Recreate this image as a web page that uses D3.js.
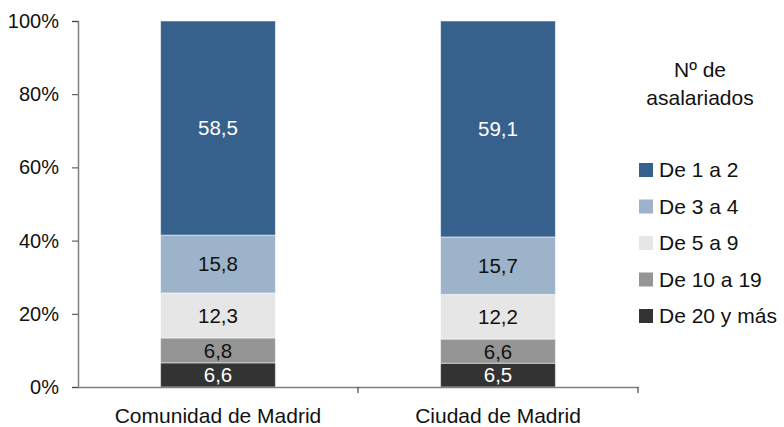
<!DOCTYPE html>
<html>
<head>
<meta charset="utf-8">
<script src="https://cdn.jsdelivr.net/npm/d3@7"></script>
<style>
  body { margin: 0; background: #fff; }
  svg text { font-family: "Liberation Sans", Arial, sans-serif; fill: #111; }
</style>
</head>
<body>
<svg class="chart" width="784" height="427"></svg>
<script>
const categories = ["Comunidad de Madrid", "Ciudad de Madrid"];
const seriesNames = ["De 20 y más", "De 10 a 19", "De 5 a 9", "De 3 a 4", "De 1 a 2"];
const seriesColors = ["#333333", "#959595", "#e6e6e6", "#9cb3c9", "#37618d"];
const labelColors = ["#fff", "#111", "#111", "#111", "#fff"];
// values per category, bottom to top
const comunidadValues = [6.6, 6.8, 12.3, 15.8, 58.5];
const ciudadValues = [6.5, 6.6, 12.2, 15.7, 59.1];
const yTicks = [0, 20, 40, 60, 80, 100];
const legendTitle = ["Nº de", "asalariados"];

const svg = d3.select("svg.chart");
const plotLeft = 78, plotRight = 638, plotTop = 21, plotBottom = 387;

const rows = categories.map((c, i) => {
  const vals = i === 0 ? comunidadValues : ciudadValues;
  const row = { cat: c };
  seriesNames.forEach((s, j) => (row[s] = vals[j]));
  return row;
});

const stacked = d3.stack().keys(seriesNames)(rows);

const x = d3.scaleBand().domain(categories).range([plotLeft, plotRight]).paddingInner(0.59).paddingOuter(0.295);
const xOuter = d3.scaleBand().domain(categories).range([plotLeft, plotRight]);
const y = d3.scaleLinear().domain([0, 100]).range([plotBottom, plotTop]);
const fmt = v => d3.format(".1f")(v).replace(".", ",");

// bars
const layers = svg.selectAll("g.layer")
  .data(stacked)
  .enter()
  .append("g")
  .attr("class", "layer");

layers.selectAll("rect")
  .data((d, i) => d.map(p => ({ p: p, i: i })))
  .enter()
  .append("rect")
  .attr("x", d => x(d.p.data.cat))
  .attr("y", d => y(Math.min(100, d.p[1])))
  .attr("width", x.bandwidth())
  .attr("height", d => y(d.p[0]) - y(Math.min(100, d.p[1])))
  .attr("fill", d => seriesColors[d.i])
  .attr("stroke", "#fff")
  .attr("stroke-opacity", 0.5)
  .attr("stroke-width", 1);

layers.selectAll("text")
  .data((d, i) => d.map(p => ({ p: p, i: i })))
  .enter()
  .append("text")
  .attr("x", d => x(d.p.data.cat) + x.bandwidth() / 2)
  .attr("y", d => (y(d.p[0]) + y(Math.min(100, d.p[1]))) / 2)
  .attr("dy", "0.36em")
  .attr("text-anchor", "middle")
  .style("font-size", "20.5px")
  .style("fill", d => labelColors[d.i])
  .text(d => fmt(d.p[1] - d.p[0]));

// y axis
const yAxis = svg.append("g")
  .attr("transform", "translate(" + plotLeft + ",0)")
  .call(d3.axisLeft(y).tickValues(yTicks).tickFormat(d => d + "%").tickSize(6).tickPadding(13));
yAxis.select(".domain").attr("stroke", "#808080").attr("stroke-width", 1.5);
yAxis.selectAll(".tick line").attr("stroke", "#444");
yAxis.selectAll("text").style("font-size", "20px").attr("fill", "#111");

// x axis
const xAxis = svg.append("g")
  .attr("transform", "translate(0," + plotBottom + ")")
  .call(d3.axisBottom(xOuter).tickSize(0).tickPadding(21));
xAxis.select(".domain").attr("stroke", "#808080").attr("stroke-width", 1.5);
xAxis.selectAll("text").style("font-size", "21px").attr("fill", "#111");

svg.append("g")
  .selectAll("line")
  .data([xOuter.range()[0] + xOuter.step(), xOuter.range()[1]])
  .enter()
  .append("line")
  .attr("x1", d => d)
  .attr("x2", d => d)
  .attr("y1", plotBottom)
  .attr("y2", plotBottom + 6)
  .attr("stroke", "#444")
  .attr("stroke-width", 1.2);

// legend
svg.append("g")
  .selectAll("text")
  .data(legendTitle)
  .enter()
  .append("text")
  .attr("x", 700)
  .attr("y", (d, i) => 77 + i * 28)
  .attr("text-anchor", "middle")
  .style("font-size", "21px")
  .text(d => d);

const legendItems = svg.append("g")
  .selectAll("g")
  .data(seriesNames.slice().reverse())
  .enter()
  .append("g")
  .attr("transform", (d, i) => "translate(639," + (163 + i * 36.5) + ")");

legendItems.append("rect")
  .attr("width", 14)
  .attr("height", 14)
  .attr("fill", d => seriesColors[seriesNames.indexOf(d)]);

legendItems.append("text")
  .attr("x", 20)
  .attr("y", 14)
  .style("font-size", "21px")
  .text(d => d);
</script>
</body>
</html>
